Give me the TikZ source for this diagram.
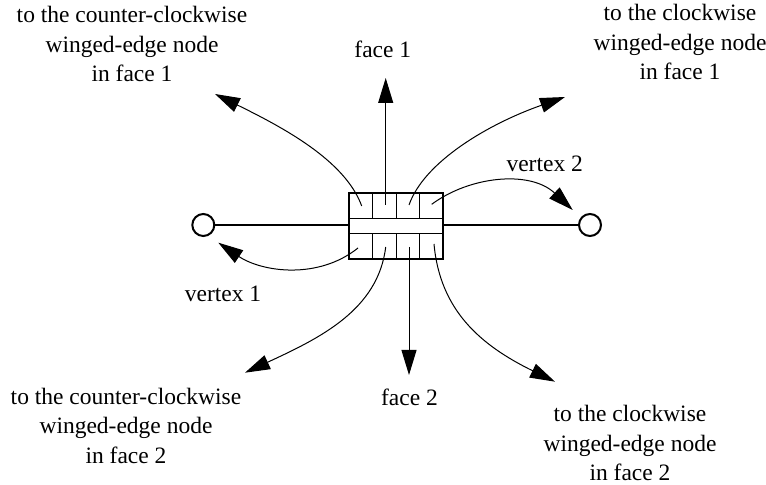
\documentclass[tikz,border=0pt]{standalone}
\usepackage{fontspec}
\setmainfont{Liberation Serif}
\usetikzlibrary{arrows.meta}
\begin{document}
\begin{tikzpicture}[x=0.5pt,y=-0.5pt,
  lbl/.style={font=\fontsize{11.75}{14.75}\selectfont, inner sep=0pt, align=center},
  ptr/.style={line width=0.5pt, -{Triangle[length=12.5pt,width=7.5pt]}},
  vert/.style={circle, draw, line width=1pt, minimum size=11pt, inner sep=0pt, fill=white},
  recbox/.style={draw, line width=0.9pt, minimum width=47pt, minimum height=33.3pt, inner sep=0pt, outer sep=0pt},
  thin/.style={line width=0.5pt},
  edgeline/.style={line width=1pt}]
\useasboundingbox (0,0) rectangle (766,485);

% labels
\node[lbl] (tl) at (132,44.1) {to the counter-clockwise\\winged-edge node\\in face 1};
\node[lbl] (tr) at (680,42.1) {to the clockwise\\winged-edge node\\in face 1};
\node[lbl] (bl) at (126,425.7) {to the counter-clockwise\\winged-edge node\\in face 2};
\node[lbl] (br) at (630,443.1) {to the clockwise\\winged-edge node\\in face 2};
\node[lbl, anchor=base] (f1) at (382.8,57.3) {face 1};
\node[lbl, anchor=base] (f2) at (409.5,406) {face 2};
\node[lbl, anchor=base] (vl1) at (223,301.7) {vertex 1};
\node[lbl, anchor=base] (vl2) at (544.7,171.7) {vertex 2};

% winged-edge record
\node[recbox] (box) at (396.3,226) {};
\coordinate (bandtopL) at (349.3,218.3);
\coordinate (bandtopR) at (443.3,218.3);
\coordinate (bandbotL) at (349.3,234);
\coordinate (bandbotR) at (443.3,234);
\draw[thin] (bandtopL) -- (bandtopR);
\draw[thin] (bandbotL) -- (bandbotR);
\foreach \x in {372.8,396.3,419.8}{
  \draw[thin] (\x,192.7) -- (\x,218.3);
  \draw[thin] (\x,234) -- (\x,259.3);
}

% vertices and edge
\node[vert] (v1) at (203.3,225) {};
\node[vert] (v2) at (590,225) {};
\draw[edgeline] (v1.east) -- (v1.east -| box.west);
\draw[edgeline] (v2.west -| box.east) -- (v2.west);

% pointer starts
\coordinate (s1) at (361.7,206);
\coordinate (s2) at (385.7,205);
\coordinate (s3) at (409,205);
\coordinate (s4) at (431.7,204.3);
\coordinate (s5) at (358,248);
\coordinate (s6) at (385.7,247);
\coordinate (s7) at (409,247);
\coordinate (s8) at (434,244);
% pointer tips
\coordinate (t1) at (215,94);
\coordinate (t2) at (385.7,78);
\coordinate (t3) at (565,97);
\coordinate (t4) at (572.7,210);
\coordinate (t5) at (218.3,242.7);
\coordinate (t6) at (245,372.7);
\coordinate (t7) at (409,375);
\coordinate (t8) at (555,381.7);

\draw[ptr] (s1) .. controls (345,160) and (282,127) .. (t1);
\draw[ptr] (s2) -- (t2);
\draw[ptr] (s3) .. controls (424,162) and (488,124) .. (t3);
\draw[ptr] (s4) .. controls (470,176) and (530,170) .. (t4);
\draw[ptr] (s5) .. controls (318,280) and (262,272) .. (t5);
\draw[ptr] (s6) .. controls (378,310) and (320,338) .. (t6);
\draw[ptr] (s7) -- (t7);
\draw[ptr] (s8) .. controls (440,310) and (480,345) .. (t8);
\end{tikzpicture}
\end{document}
